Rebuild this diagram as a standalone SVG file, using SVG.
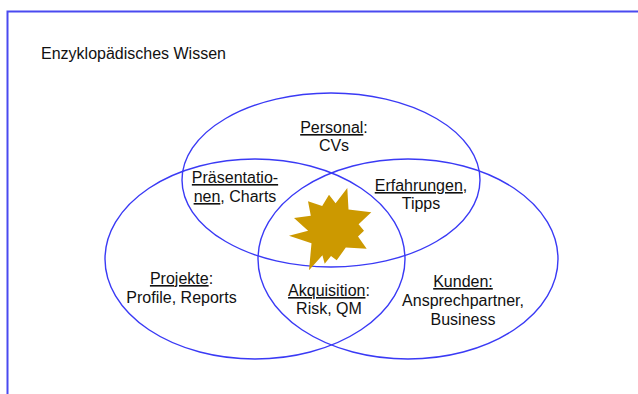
<svg xmlns="http://www.w3.org/2000/svg" width="638" height="394" viewBox="0 0 638 394">
<style>
.frame{fill:none;stroke:#4a4af0;stroke-width:2}
.ell{fill:none;stroke:#3a3af5;stroke-width:1.4}
.t{font-family:"Liberation Sans",Arial,sans-serif;font-size:16px;fill:#111;text-anchor:middle}
.u{text-decoration:underline}
</style>
<rect width="638" height="394" fill="#fff"/>
<path class="frame" d="M7.5,394 V11.5 H638"/>
<text x="41" y="59" class="t" style="text-anchor:start">Enzyklopädisches Wissen</text>
<g id="personal">
<ellipse class="ell" cx="331" cy="180" rx="149" ry="87"/>
</g>
<g id="projekte">
<ellipse class="ell" cx="255" cy="259" rx="150" ry="100"/>
</g>
<g id="kunden">
<ellipse class="ell" cx="408" cy="259" rx="150" ry="100"/>
</g>
<g id="star">
<polygon fill="#cc9900" points="347.3,188 348.5,209.5 371.3,212.3 358.6,224.3 364,230.7 358,236.4 366.7,248.7 345.8,247.5 336.7,260.3 331,256 324.7,263.7 322.4,255.3 309,270.3 311.5,243.3 289,235.7 308.1,230.7 294,218 310.8,215.8 308,201.3 322.2,206 329,194.7 335.6,203.3"/>
</g>
<g id="label-personal">
<text class="t" x="334" y="133"><tspan class="u">Personal</tspan>:</text>
<text class="t" x="334" y="151">CVs</text>
</g>
<g id="label-praesentationen">
<text class="t" x="235" y="183"><tspan class="u">Präsentatio-</tspan></text>
<text class="t" x="235" y="202"><tspan class="u">nen</tspan>, Charts</text>
</g>
<g id="label-erfahrungen">
<text class="t" x="421" y="191"><tspan class="u">Erfahrungen</tspan>,</text>
<text class="t" x="421" y="209">Tipps</text>
</g>
<g id="label-projekte">
<text class="t" x="181.5" y="284"><tspan class="u">Projekte</tspan>:</text>
<text class="t" x="181.5" y="303">Profile, Reports</text>
</g>
<g id="label-akquisition">
<text class="t" x="329" y="296"><tspan class="u">Akquisition</tspan>:</text>
<text class="t" x="329" y="314">Risk, QM</text>
</g>
<g id="label-kunden">
<text class="t" x="463" y="287"><tspan class="u">Kunden:</tspan></text>
<text class="t" x="463" y="306">Ansprechpartner,</text>
<text class="t" x="463" y="325">Business</text>
</g>
</svg>
